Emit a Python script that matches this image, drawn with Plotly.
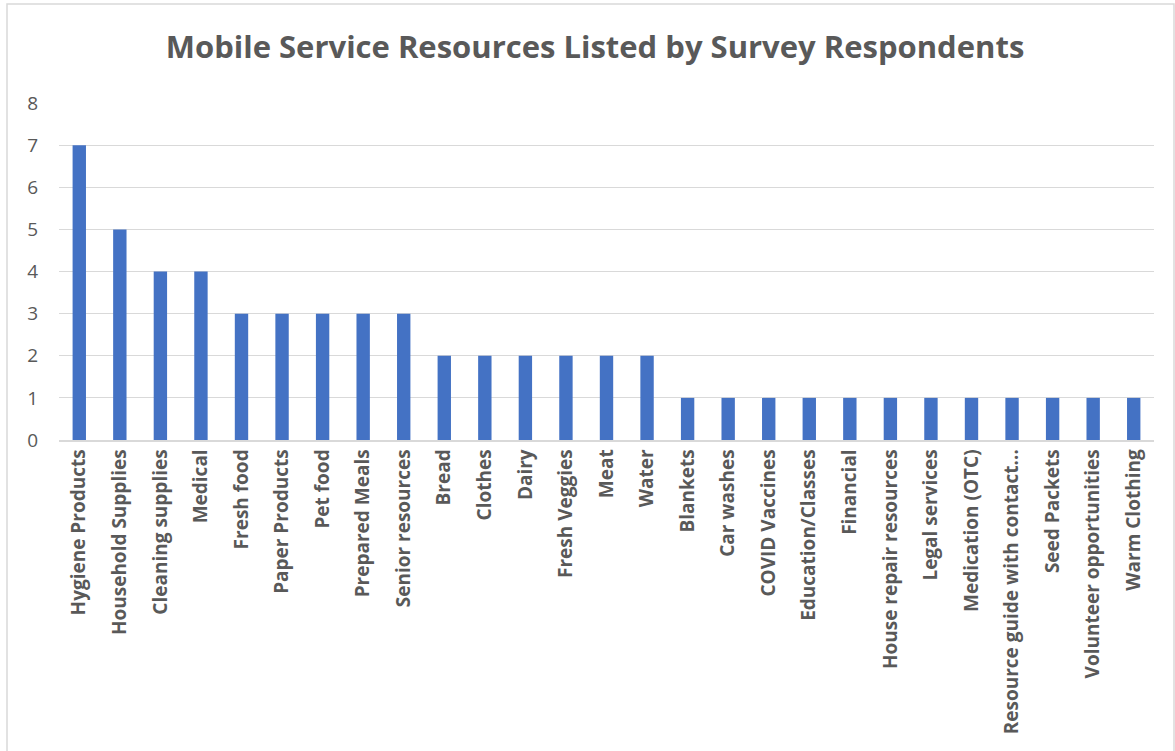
import plotly.graph_objects as go

categories = ["Hygiene Products", "Household Supplies", "Cleaning supplies", "Medical",
              "Fresh food", "Paper Products", "Pet food", "Prepared Meals", "Senior resources",
              "Bread", "Clothes", "Dairy", "Fresh Veggies", "Meat", "Water", "Blankets",
              "Car washes", "COVID Vaccines", "Education/Classes", "Financial",
              "House repair resources", "Legal services", "Medication (OTC)",
              "Resource guide with contact…", "Seed Packets", "Volunteer opportunities",
              "Warm Clothing"]
values = [7, 5, 4, 4, 3, 3, 3, 3, 3, 2, 2, 2, 2, 2, 2, 1, 1, 1, 1, 1, 1, 1, 1, 1, 1, 1, 1]
y_ticks = [0, 1, 2, 3, 4, 5, 6, 7, 8]

W, H = 1175, 751
ml, mr, mt, mb = 59, 21, 103, 311
pw, ph = W - ml - mr, H - mt - mb

fig = go.Figure(go.Bar(x=categories, y=values, marker=dict(color="#4472C4", line=dict(width=0)),
                       width=0.33))

fig.update_layout(
    width=W, height=H,
    margin=dict(l=ml, r=mr, t=mt, b=mb),
    paper_bgcolor="white", plot_bgcolor="white",
    title=dict(text="<b>Mobile Service Resources Listed by Survey Respondents</b>",
               x=595 / W, xanchor="center", y=1 - 47 / H, yanchor="middle",
               font=dict(family="Open Sans", size=31, color="#595959")),
    font=dict(family="Open Sans", color="#595959"),
    showlegend=False,
    xaxis=dict(tickangle=-90, tickfont=dict(size=19, color="#595959", family="Open Sans"),
               tickvals=categories, ticktext=["<b>%s</b>" % c for c in categories],
               showline=True, linecolor="#d9d9d9", linewidth=1.5, ticks="",
               range=[-0.5, len(categories) - 0.5]),
    yaxis=dict(range=[0, 8], tickvals=y_ticks, tickfont=dict(size=19, color="#595959"),
               showgrid=True, gridcolor="#d9d9d9", gridwidth=1.2, zeroline=False,
               showline=False, ticks="", ticklabelstandoff=20),
)

fig.add_shape(type="rect", xref="paper", yref="paper",
              x0=(7 - ml) / pw, x1=(1174 - ml) / pw,
              y0=-(H - mt - ph + 10) / ph, y1=1 + (mt - 4) / ph,
              line=dict(color="#d9d9d9", width=1.5), fillcolor="rgba(0,0,0,0)", layer="below")

fig.write_html("out.html")
